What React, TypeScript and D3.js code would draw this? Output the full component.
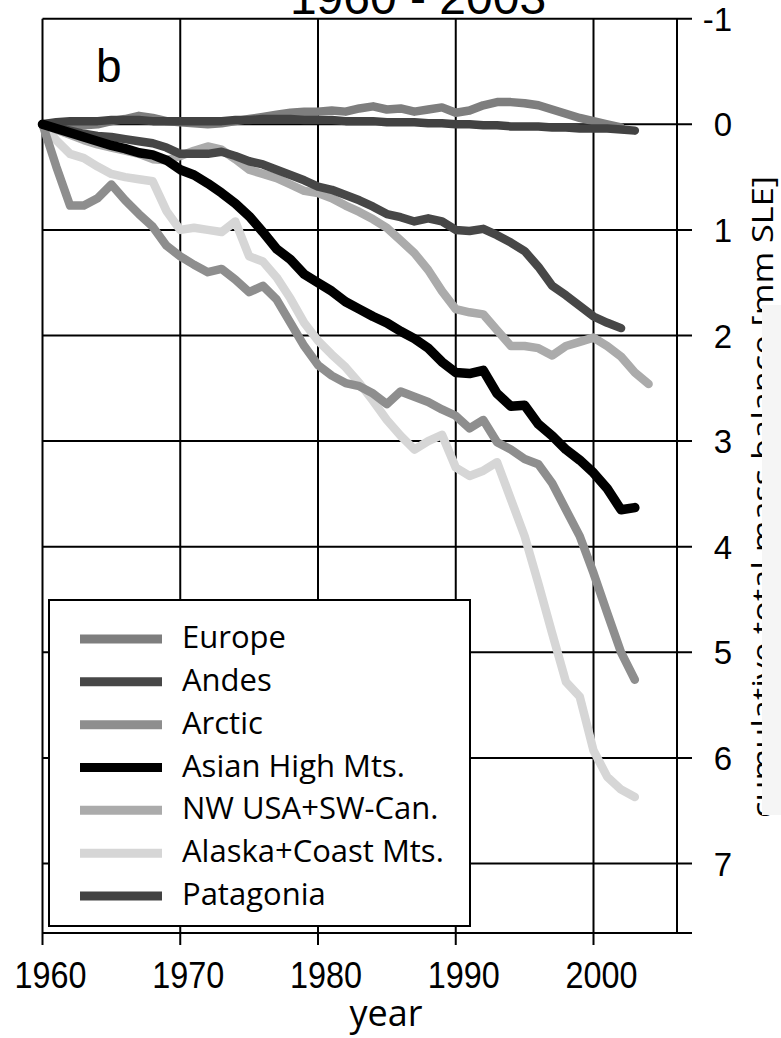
import React from "react";
import * as d3 from "d3";

const years: number[] = d3.range(1960, 2005);

const europe = [0, -0.01, 0, 0.01, 0, -0.03, -0.05, -0.08, -0.06, -0.03, -0.02, -0.01, 0, -0.01, -0.03, -0.05, -0.07, -0.09, -0.11, -0.12, -0.12, -0.13, -0.12, -0.15, -0.17, -0.14, -0.15, -0.12, -0.14, -0.16, -0.11, -0.13, -0.18, -0.21, -0.21, -0.2, -0.18, -0.14, -0.1, -0.06, -0.03, 0, 0.03];
const andes = [0, 0.03, 0.06, 0.09, 0.11, 0.12, 0.14, 0.16, 0.18, 0.22, 0.28, 0.28, 0.28, 0.26, 0.3, 0.35, 0.38, 0.43, 0.48, 0.53, 0.59, 0.62, 0.67, 0.72, 0.78, 0.85, 0.88, 0.92, 0.89, 0.92, 1.0, 1.01, 0.99, 1.05, 1.12, 1.2, 1.35, 1.53, 1.62, 1.72, 1.82, 1.88, 1.93];
const arctic = [0, 0.4, 0.77, 0.77, 0.7, 0.57, 0.72, 0.85, 0.97, 1.15, 1.25, 1.33, 1.4, 1.37, 1.47, 1.59, 1.53, 1.66, 1.88, 2.1, 2.28, 2.38, 2.45, 2.48, 2.55, 2.65, 2.53, 2.58, 2.63, 2.7, 2.76, 2.88, 2.8, 3.01, 3.08, 3.17, 3.22, 3.4, 3.65, 3.9, 4.25, 4.63, 5.0, 5.26];
const asian = [0, 0.04, 0.08, 0.12, 0.16, 0.2, 0.23, 0.27, 0.29, 0.34, 0.43, 0.48, 0.56, 0.65, 0.75, 0.87, 1.02, 1.18, 1.28, 1.42, 1.5, 1.58, 1.68, 1.75, 1.82, 1.88, 1.96, 2.03, 2.12, 2.25, 2.35, 2.36, 2.33, 2.55, 2.67, 2.66, 2.84, 2.95, 3.08, 3.18, 3.3, 3.45, 3.65, 3.63];
const nwUsa = [0, 0.05, 0.1, 0.15, 0.19, 0.22, 0.25, 0.28, 0.33, 0.34, 0.3, 0.25, 0.21, 0.24, 0.33, 0.43, 0.47, 0.51, 0.57, 0.63, 0.65, 0.7, 0.77, 0.83, 0.9, 0.98, 1.1, 1.22, 1.38, 1.58, 1.75, 1.78, 1.8, 1.95, 2.1, 2.1, 2.12, 2.19, 2.1, 2.06, 2.02, 2.1, 2.2, 2.35, 2.46];
const alaska = [0, 0.15, 0.28, 0.32, 0.4, 0.47, 0.5, 0.52, 0.54, 0.82, 1.0, 0.98, 1.0, 1.02, 0.92, 1.25, 1.3, 1.45, 1.65, 1.88, 2.05, 2.18, 2.3, 2.45, 2.62, 2.8, 2.95, 3.08, 3.0, 2.94, 3.25, 3.33, 3.28, 3.2, 3.55, 3.9, 4.35, 4.82, 5.28, 5.42, 5.93, 6.18, 6.3, 6.37];
const patagonia = [0, -0.02, -0.03, -0.03, -0.03, -0.04, -0.04, -0.04, -0.03, -0.03, -0.03, -0.03, -0.03, -0.03, -0.04, -0.04, -0.05, -0.05, -0.05, -0.04, -0.04, -0.04, -0.03, -0.03, -0.03, -0.02, -0.02, -0.02, -0.01, -0.01, 0, 0, 0.01, 0.01, 0.02, 0.02, 0.02, 0.03, 0.03, 0.04, 0.04, 0.04, 0.05, 0.06];

const seriesNames = ["Europe", "Andes", "Arctic", "Asian High Mts.", "NW USA+SW-Can.", "Alaska+Coast Mts.", "Patagonia"];
const seriesValues = [europe, andes, arctic, asian, nwUsa, alaska, patagonia];
const seriesColors = ["#7e7e7e", "#474747", "#8e8e8e", "#000000", "#ababab", "#d6d6d6", "#424242"];
const drawOrder = [5, 4, 2, 0, 1, 6, 3];

const xTicks = [1960, 1970, 1980, 1990, 2000];
const yTicks = [-1, 0, 1, 2, 3, 4, 5, 6, 7];

export default function App() {
  const x = d3.scaleLinear().domain([1960, 2000]).range([42.5, 593.5]);
  const y = d3.scaleLinear().domain([-1, 7]).range([18.7, 863.5]);
  const left = 42.5;
  const right = 677;
  const top = y(-1);
  const bottom = 933;
  const tickEnd = 692;

  const line = d3
    .line<[number, number]>()
    .x((d) => x(d[0]))
    .y((d) => y(d[1]))
    .curve(d3.curveLinear);

  const legendItemY = d3.scaleLinear().domain([0, 6]).range([639, 896]);

  return (
    <svg
      width={781}
      height={1038}
      style={{ position: "absolute", left: 0, top: 0, background: "#fff" }}
    >
      <rect x={0} y={0} width={781} height={1038} fill="#ffffff" />
      {/* clipped title */}
      <text
        x={418}
        y={14}
        textAnchor="middle"
        fontFamily="Liberation Sans, Arial, sans-serif"
        fontSize={48}
        fill="#000"
      >
        1960 - 2003
      </text>

      {/* vertical grid lines */}
      {xTicks.map((t) => (
        <line key={"vx" + t} x1={x(t)} x2={x(t)} y1={top} y2={bottom + 12} stroke="#000" strokeWidth={2} />
      ))}
      <line x1={right} x2={right} y1={top} y2={bottom} stroke="#000" strokeWidth={2} />
      {/* horizontal grid lines */}
      {yTicks.map((t) => (
        <line key={"hy" + t} x1={left} x2={tickEnd} y1={y(t)} y2={y(t)} stroke="#000" strokeWidth={2} />
      ))}
      <line x1={left} x2={tickEnd} y1={bottom} y2={bottom} stroke="#000" strokeWidth={2} />

      {/* series */}
      {drawOrder.map((i) => {
        const pts: [number, number][] = seriesValues[i].map((v, k) => [years[k], v]);
        return (
          <path
            key={"s" + i}
            d={line(pts) || ""}
            fill="none"
            stroke={seriesColors[i]}
            strokeWidth={i === 3 ? 9.5 : 8.5}
            strokeLinejoin="round"
            strokeLinecap="round"
          />
        );
      })}

      {/* panel label */}
      <text x={96} y={82} fontFamily="Liberation Sans, Arial, sans-serif" fontSize={46} fill="#000">
        b
      </text>

      {/* legend */}
      <rect x={49} y={600} width={421} height={326} fill="#fff" stroke="#000" strokeWidth={2} />
      {seriesNames.map((name, i) => (
        <g key={"lg" + i}>
          <line x1={80} x2={162} y1={legendItemY(i)} y2={legendItemY(i)} stroke={seriesColors[i]} strokeWidth={9} />
          <text x={182} y={legendItemY(i) + 9} fontFamily="Open Sans, sans-serif" fontSize={31} fill="#000">
            {name}
          </text>
        </g>
      ))}

      {/* x tick labels */}
      {xTicks.map((t) => (
        <text
          key={"xl" + t}
          x={x(t) + 8}
          y={988}
          textAnchor="middle"
          fontFamily="Liberation Sans, Arial, sans-serif"
          fontSize={36}
          textLength={72}
          lengthAdjust="spacingAndGlyphs"
          fill="#000"
        >
          {t}
        </text>
      ))}
      <text x={386} y={1026} textAnchor="middle" fontFamily="Open Sans, sans-serif" fontSize={36} fill="#000">
        year
      </text>

      {/* y tick labels */}
      {yTicks.map((t) => (
        <text
          key={"yl" + t}
          x={732}
          y={y(t) + 12}
          textAnchor="end"
          fontFamily="Liberation Sans, Arial, sans-serif"
          fontSize={33}
          fill="#000"
        >
          {t}
        </text>
      ))}

      {/* y axis title (partially covered) */}
      <text
        transform="translate(773,497) rotate(-90)"
        textAnchor="middle"
        fontFamily="Open Sans, sans-serif"
        fontSize={30}
        textLength={642}
        lengthAdjust="spacingAndGlyphs"
        fill="#000"
      >
        cumulative total mass balance [mm SLE]
      </text>
      <rect x={762} y={305} width={19} height={510} fill="#f5f5f5" />
    </svg>
  );
}
